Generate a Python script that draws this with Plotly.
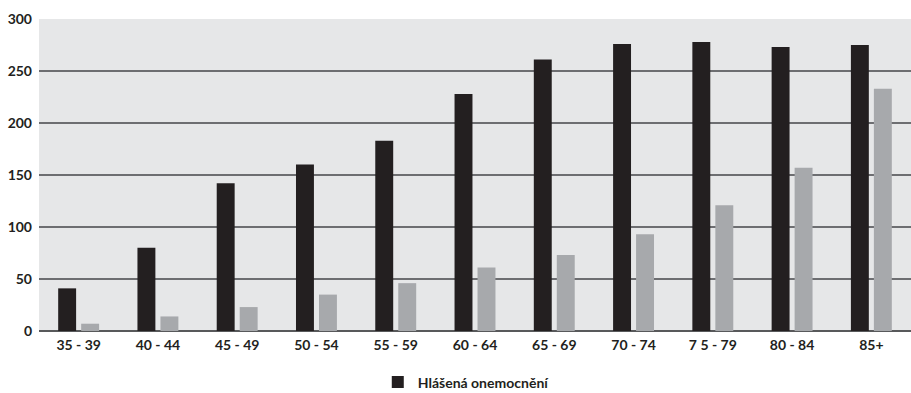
import plotly.graph_objects as go

# Age groups and values per group
age_groups = ["35 - 39", "40 - 44", "45 - 49", "50 - 54", "55 - 59", "60 - 64",
              "65 - 69", "70 - 74", "7 5 - 79", "80 - 84", "85+"]
reported_cases = [41, 80, 142, 160, 183, 228, 261, 276, 278, 273, 275]
second_series = [7, 14, 23, 35, 46, 61, 73, 93, 121, 157, 233]

y_ticks = [0, 50, 100, 150, 200, 250, 300]

font_family = "Lato, 'Open Sans', sans-serif"

fig = go.Figure()
fig.add_trace(go.Bar(
    x=age_groups, y=reported_cases, name="Hlášená onemocnění",
    marker=dict(color="#231f20", line=dict(width=0)),
))
fig.add_trace(go.Bar(
    x=age_groups, y=second_series, name="",
    marker=dict(color="#a7a9ac", line=dict(width=0)),
    showlegend=False,
))

fig.update_layout(
    width=911, height=393,
    margin=dict(l=39, r=0, t=19, b=62, autoexpand=False),
    paper_bgcolor="white",
    plot_bgcolor="#e6e7e8",
    barmode="group",
    bargap=0.42,
    bargroupgap=0.22,
    font=dict(family=font_family, size=14, color="#231f20"),
    showlegend=True,
    legend=dict(
        orientation="h", x=0.49, xanchor="center", y=-0.165, yanchor="middle",
        itemwidth=30,
        font=dict(family=font_family, size=14, color="#231f20", weight="bold"),
        bgcolor="rgba(0,0,0,0)",
    ),
    xaxis=dict(
        type="category", range=[-0.5, 10.5],
        showgrid=False, showline=False, zeroline=False,
        ticks="", ticklen=0, ticklabelstandoff=4,
        tickfont=dict(family=font_family, size=14, color="#231f20", weight="bold"),
        fixedrange=True,
    ),
    yaxis=dict(
        range=[0, 300], tickvals=y_ticks, ticktext=[str(v) for v in y_ticks],
        showgrid=True, gridcolor="#6d6e71", gridwidth=1.5,
        zeroline=True, zerolinecolor="#58595b", zerolinewidth=2,
        showline=False, ticks="", ticklabelstandoff=6,
        tickfont=dict(family=font_family, size=14, color="#231f20", weight="bold"),
        fixedrange=True,
    ),
)

fig.write_html("out.html")
